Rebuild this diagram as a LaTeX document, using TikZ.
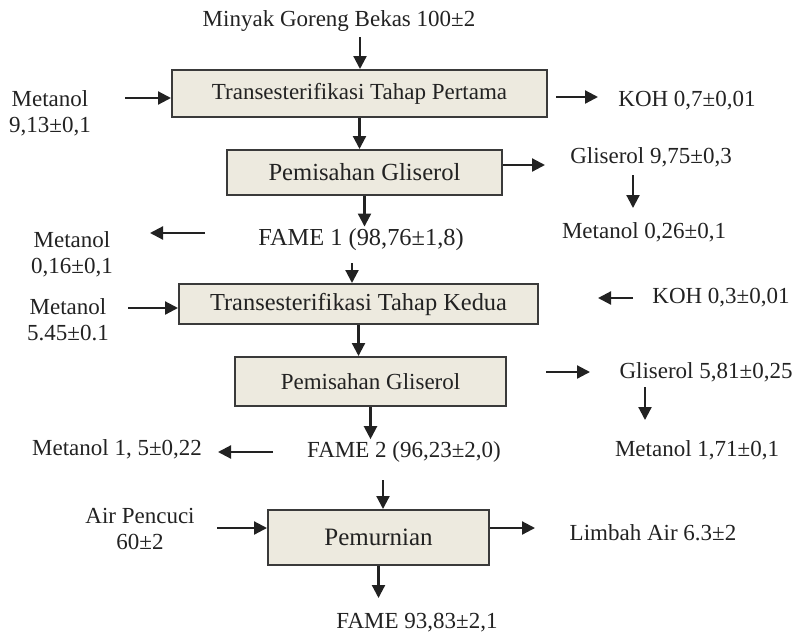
\documentclass[tikz,border=0pt]{standalone}
\usepackage{fontspec}
\setmainfont{Liberation Serif}
\usetikzlibrary{arrows.meta,positioning}
\definecolor{BoxFill}{RGB}{237,234,223}
\definecolor{BoxLine}{RGB}{58,58,58}
\definecolor{InkGray}{RGB}{34,34,34}
\tikzset{font=\fontsize{11.5}{13}\selectfont}
\tikzset{ProcBox/.style={draw=BoxLine, line width=1pt, fill=BoxFill, inner sep=0pt}}
\tikzset{Label/.style={inner sep=1pt, align=center}}
\tikzset{FlowArrow/.style={draw=InkGray, line width=1.1pt, -{Triangle[length=6.5pt,width=6.5pt]}}}

\begin{document}
\begin{tikzpicture}[x=.5pt,y=-.5pt,text=InkGray]
\useasboundingbox (0,0) rectangle (795,637);

% process boxes
\node[ProcBox, minimum width=187.5pt, minimum height=23.5pt] (trans1) at (359.5,93.5) {Transesterifikasi Tahap Pertama};
\node[ProcBox, minimum width=137.5pt, minimum height=22.5pt, font=\fontsize{12.3}{14}\selectfont] (sep1) at (364.5,172.5) {Pemisahan Gliserol};
\node[ProcBox, minimum width=179.5pt, minimum height=20pt, font=\fontsize{12.2}{14}\selectfont] (trans2) at (358.5,304) {Transesterifikasi Tahap Kedua};
\node[ProcBox, minimum width=135.5pt, minimum height=24.5pt] (sep2) at (370.5,381.5) {Pemisahan Gliserol};
\node[ProcBox, minimum width=110.5pt, minimum height=27.5pt, font=\fontsize{12.5}{15}\selectfont] (purif) at (378.5,537.5) {Pemurnian};

% streams
\node[Label] (feed) at (339,21) {Minyak Goreng Bekas 100±2};
\node[Label] (met1) at (50,113) {Metanol\\9,13±0,1};
\node[Label] (koh1) at (687,101) {KOH 0,7±0,01};
\node[Label] (gli1) at (651,157) {Gliserol 9,75±0,3};
\node[Label] (mgl1) at (644,232) {Metanol 0,26±0,1};
\node[Label, font=\fontsize{12.2}{14}\selectfont] (fame1) at (361,240) {FAME 1 (98,76±1,8)};
\node[Label] (met2) at (72,254) {Metanol\\0,16±0,1};
\node[Label] (met3) at (68,320) {Metanol\\5.45±0.1};
\node[Label] (koh2) at (721,298) {KOH 0,3±0,01};
\node[Label] (gli2) at (706,372) {Gliserol 5,81±0,25};
\node[Label] (mgl2) at (697,450) {Metanol 1,71±0,1};
\node[Label] (fame2) at (404,452) {FAME 2 (96,23±2,0)};
\node[Label] (met4) at (117,449) {Metanol 1, 5±0,22};
\node[Label] (air) at (140,529) {Air Pencuci\\60±2};
\node[Label] (limbah) at (653,533) {Limbah Air 6.3±2};
\node[Label] (fame3) at (417,623) {FAME 93,83±2,1};

% free arrow ends
\coordinate (feedTail) at (360,37);
\coordinate (met1Tail) at (125,98);
\coordinate (koh1Tip) at (598,97);
\coordinate (gli1Tip) at (545,165);
\coordinate (mgl1Tail) at (633,175);
\coordinate (mgl1Tip) at (633,208);
\coordinate (met2Tail) at (205,233);
\coordinate (met2Tip) at (150,233);
\coordinate (fame1Tail) at (352,263);
\coordinate (met3Tail) at (128,308);
\coordinate (koh2Tail) at (633,298);
\coordinate (koh2Tip) at (598,298);
\coordinate (gli2Tail) at (546,372);
\coordinate (gli2Tip) at (590,372);
\coordinate (mgl2Tail) at (645,387);
\coordinate (mgl2Tip) at (645,420);
\coordinate (met4Tail) at (273,452);
\coordinate (met4Tip) at (218,452);
\coordinate (fame2Tail) at (383,480);
\coordinate (airTail) at (217,528);
\coordinate (limbahTip) at (535,528);
\coordinate (fame3Tip) at (388,598);

% stage 1
\draw[FlowArrow] (feedTail) -- (feedTail |- trans1.north);
\draw[FlowArrow] (met1Tail) -- (met1Tail -| trans1.west);
\draw[FlowArrow, shorten <=4pt] (koh1Tip -| trans1.east) -- (koh1Tip);
\draw[FlowArrow] (trans1.south) -- (trans1.south |- sep1.north);
\draw[FlowArrow] (gli1Tip -| sep1.east) -- (gli1Tip);
\draw[FlowArrow] (mgl1Tail) -- (mgl1Tip);
\draw[FlowArrow] (sep1.south) -- (sep1.south |- fame1.north);
\draw[FlowArrow] (met2Tail) -- (met2Tip);

% stage 2
\draw[FlowArrow] (fame1Tail) -- (fame1Tail |- trans2.north);
\draw[FlowArrow] (met3Tail) -- (met3Tail -| trans2.west);
\draw[FlowArrow] (koh2Tail) -- (koh2Tip);
\draw[FlowArrow] (trans2.south) -- (trans2.south |- sep2.north);
\draw[FlowArrow] (gli2Tail) -- (gli2Tip);
\draw[FlowArrow] (mgl2Tail) -- (mgl2Tip);
\draw[FlowArrow] (sep2.south) -- (sep2.south |- fame2.north);
\draw[FlowArrow] (met4Tail) -- (met4Tip);

% purification
\draw[FlowArrow] (fame2Tail) -- (fame2Tail |- purif.north);
\draw[FlowArrow] (airTail) -- (airTail -| purif.west);
\draw[FlowArrow] (limbahTip -| purif.east) -- (limbahTip);
\draw[FlowArrow] (purif.south) -- (purif.south |- fame3Tip);
\end{tikzpicture}
\end{document}
